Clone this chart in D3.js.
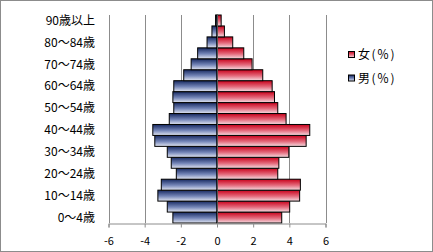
<!DOCTYPE html>
<html>
<head>
<meta charset="utf-8">
<script src="https://cdn.jsdelivr.net/npm/d3@7"></script>
<style>
  body { margin: 0; background: #fff; }
  svg { display: block; font-family: "Noto Sans CJK JP", sans-serif; }
</style>
</head>
<body>
<div id="chart-area"></div>
<script>
// age groups, bottom to top
const ageGroups = ["0～4歳", "5～9歳", "10～14歳", "15～19歳", "20～24歳", "25～29歳",
  "30～34歳", "35～39歳", "40～44歳", "45～49歳", "50～54歳", "55～59歳",
  "60～64歳", "65～69歳", "70～74歳", "75～79歳", "80～84歳", "85～89歳", "90歳以上"]
const male = [2.44, 2.75, 3.27, 3.08, 2.25, 2.53, 2.75, 3.44, 3.55, 2.64,
  2.39, 2.44, 2.39, 1.84, 1.43, 1.07, 0.55, 0.28, 0.08]
const female = [3.58, 4.02, 4.57, 4.61, 3.36, 3.42, 3.97, 4.93, 5.13, 3.82,
  3.36, 3.18, 3.05, 2.53, 1.94, 1.48, 0.87, 0.41, 0.23]
const xTicks = [-6, -4, -2, 0, 2, 4, 6]
const legendNames = ["女(％)", "男(％)"]

const W = 433, H = 252

const svg = d3.select("#chart-area").append("svg")
  .attr("width", W)
  .attr("height", H)

const defs = svg.append("defs")
const gradM = defs.append("linearGradient").attr("id", "gm")
  .attr("x1", 0).attr("y1", 0).attr("x2", 0).attr("y2", 1)
gradM.append("stop").attr("offset", "0%").attr("stop-color", "#162860")
gradM.append("stop").attr("offset", "55%").attr("stop-color", "#7586b8")
gradM.append("stop").attr("offset", "100%").attr("stop-color", "#e2e6f2")
const gradF = defs.append("linearGradient").attr("id", "gf")
  .attr("x1", 0).attr("y1", 0).attr("x2", 0).attr("y2", 1)
gradF.append("stop").attr("offset", "0%").attr("stop-color", "#c8001a")
gradF.append("stop").attr("offset", "55%").attr("stop-color", "#e46a7c")
gradF.append("stop").attr("offset", "100%").attr("stop-color", "#f6dde2")

// outer frame
svg.append("rect")
  .attr("x", 0.5).attr("y", 0.5)
  .attr("width", W - 1).attr("height", H - 1)
  .attr("fill", "#fff").attr("stroke", "#8c8c8c")

const x = d3.scaleLinear().domain([-6, 6]).range([108.5, 325.5])
const y = d3.scaleBand()
  .domain(ageGroups.slice().reverse())
  .range([15, 223])
  .padding(0)

// gridlines
svg.append("g").selectAll("line")
  .data(xTicks.filter(d => d !== 0))
  .enter().append("line")
  .attr("x1", d => Math.round(x(d)) + 0.5)
  .attr("x2", d => Math.round(x(d)) + 0.5)
  .attr("y1", 15).attr("y2", 223)
  .attr("stroke", "#8c8c8c")

// bars
const rows = ageGroups.map((g, i) => ({ g: g, m: male[i], f: female[i] }))

svg.append("g").selectAll("rect")
  .data(rows)
  .enter().append("rect")
  .attr("x", d => x(-d.m))
  .attr("y", d => y(d.g))
  .attr("width", d => x(0) - x(-d.m))
  .attr("height", y.bandwidth())
  .attr("fill", "url(#gm)")
  .attr("stroke", "#000")
  .attr("stroke-width", 1)

svg.append("g").selectAll("rect")
  .data(rows)
  .enter().append("rect")
  .attr("x", x(0))
  .attr("y", d => y(d.g))
  .attr("width", d => x(d.f) - x(0))
  .attr("height", y.bandwidth())
  .attr("fill", "url(#gf)")
  .attr("stroke", "#000")
  .attr("stroke-width", 1)

// zero line (category axis)
svg.append("line")
  .attr("x1", Math.round(x(0)) + 0.5).attr("x2", Math.round(x(0)) + 0.5)
  .attr("y1", 15).attr("y2", 223)
  .attr("stroke", "#555")

// bottom value axis
const xAxis = svg.append("g")
  .attr("transform", "translate(0,223.5)")
  .call(d3.axisBottom(x).tickValues(xTicks).tickSize(4).tickPadding(10)
    .tickFormat(d => d < 0 ? "-" + Math.abs(d) : d))
xAxis.select(".domain").attr("stroke", "#8c8c8c")
xAxis.selectAll(".tick line").attr("stroke", "#8c8c8c")
xAxis.selectAll("text")
  .attr("font-family", "Noto Sans CJK JP, sans-serif")
  .attr("font-size", 11)
  .attr("fill", "#000")

// category labels, every other one
svg.append("g").selectAll("text")
  .data(ageGroups.filter((d, i) => i % 2 === 0))
  .enter().append("text")
  .attr("x", 95)
  .attr("y", d => y(d) + y.bandwidth() / 2)
  .attr("dy", "0.36em")
  .attr("text-anchor", "end")
  .attr("font-size", 12)
  .attr("fill", "#000")
  .text(d => d)

// legend
const legend = svg.append("g")
legendNames.forEach((name, i) => {
  const cy = 55 + i * 23.5
  legend.append("rect")
    .attr("x", 348.5).attr("y", cy - 3.5)
    .attr("width", 6).attr("height", 6)
    .attr("fill", i === 0 ? "url(#gf)" : "url(#gm)")
    .attr("stroke", "#000")
  legend.append("text")
    .attr("x", 358)
    .attr("y", cy)
    .attr("dy", "0.36em")
    .attr("font-size", 12)
    .attr("letter-spacing", 1.5)
    .attr("fill", "#000")
    .text(name)
})
</script>
</body>
</html>
